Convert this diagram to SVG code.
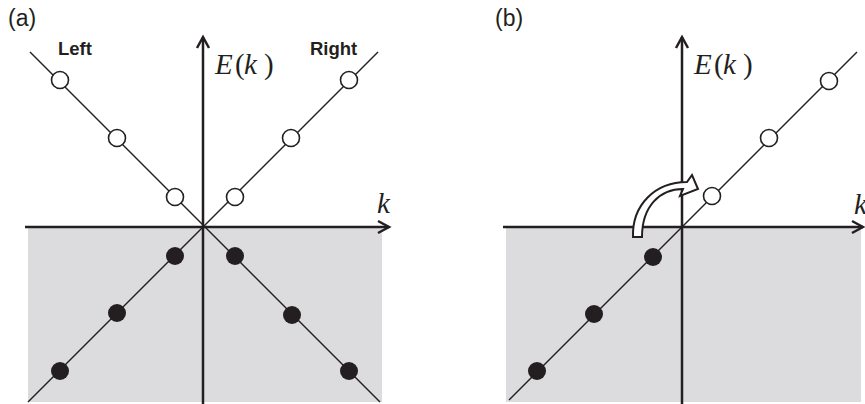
<svg xmlns="http://www.w3.org/2000/svg" width="865" height="404" viewBox="0 0 865 404">
<style>
.bg{fill:#dcdcde}
.ax{stroke:#231f20;stroke-width:2.5;fill:none}
.ah{stroke:#231f20;stroke-width:2.5;fill:none;stroke-linejoin:miter}
.dl{stroke:#231f20;stroke-width:1.4;fill:none}
.oc{fill:#fff;stroke:#231f20;stroke-width:1.6}
.fc{fill:#231f20;stroke:none}
.lab{font-family:"Liberation Sans",Arial,sans-serif;font-size:23px;fill:#231f20}
.side{font-family:"Liberation Sans",Arial,sans-serif;font-size:18.5px;font-weight:bold;fill:#231f20}
.mth{font-family:"Liberation Serif","Times New Roman",serif;font-size:29px;fill:#231f20}
.it{font-style:italic}
</style>
<rect width="865" height="404" fill="#fff"/>
<g id="panel-a-background">
<rect class="bg" x="28" y="227" width="354" height="175"/>
</g>
<g id="panel-b-background">
<rect class="bg" x="506" y="227" width="355" height="175"/>
</g>
<g id="connectors">
<line class="dl" x1="30" y1="52" x2="380" y2="402"/>
<line class="dl" x1="378" y1="52" x2="28" y2="402"/>
<line class="dl" x1="509" y1="400" x2="857" y2="52"/>
<line class="ax" x1="25" y1="227" x2="389" y2="227"/>
<polyline class="ah" points="378,221 389,227 378,233"/>
<line class="ax" x1="203" y1="404" x2="203" y2="37"/>
<polyline class="ah" points="197,48 203,37 209,48"/>
<line class="ax" x1="503" y1="227" x2="863" y2="227"/>
<polyline class="ah" points="852,221 863,227 852,233"/>
<line class="ax" x1="682" y1="404" x2="682" y2="37"/>
<polyline class="ah" points="676,48 682,37 688,48"/>
</g>
<g id="panel-a-states">
<circle class="oc" cx="60" cy="80" r="8.5"/>
<circle class="oc" cx="117" cy="138" r="8.5"/>
<circle class="oc" cx="175" cy="197" r="8.5"/>
<circle class="oc" cx="235" cy="197" r="8.5"/>
<circle class="oc" cx="291" cy="138" r="8.5"/>
<circle class="oc" cx="349" cy="80" r="8.5"/>
<circle class="fc" cx="175" cy="256" r="9"/>
<circle class="fc" cx="117" cy="313" r="9"/>
<circle class="fc" cx="60" cy="371" r="9"/>
<circle class="fc" cx="235" cy="256" r="9"/>
<circle class="fc" cx="292" cy="315" r="9"/>
<circle class="fc" cx="349" cy="371" r="9"/>
</g>
<g id="panel-b-states">
<circle class="oc" cx="712" cy="196" r="8.5"/>
<circle class="oc" cx="769" cy="138" r="8.5"/>
<circle class="oc" cx="829" cy="81" r="8.5"/>
<circle class="fc" cx="653" cy="257" r="9"/>
<circle class="fc" cx="594" cy="314" r="9"/>
<circle class="fc" cx="537" cy="371" r="9"/>
</g>
<g id="curved-arrow">
<path d="M633,237 C632,205 655,182 687,182 L692,175 L698,189 L680,196 L683,189 C660,189 642,206 642,237 Z" fill="#fff" stroke="#231f20" stroke-width="2" stroke-linejoin="miter"/>
</g>
<g id="labels">
<text class="lab" x="8" y="26">(a)</text>
<text class="lab" x="495" y="26">(b)</text>
<text class="side" x="58" y="55">Left</text>
<text class="side" x="310" y="55">Right</text>
<text class="mth"><tspan class="it" x="215" y="74">E</tspan><tspan x="235" y="74">(</tspan><tspan class="it" x="244" y="74">k</tspan><tspan x="264" y="74">)</tspan></text>
<text class="mth"><tspan class="it" x="694" y="74">E</tspan><tspan x="714" y="74">(</tspan><tspan class="it" x="723" y="74">k</tspan><tspan x="743" y="74">)</tspan></text>
<text class="mth it" x="377" y="213">k</text>
<text class="mth it" x="854" y="214">k</text>
</g>
</svg>
